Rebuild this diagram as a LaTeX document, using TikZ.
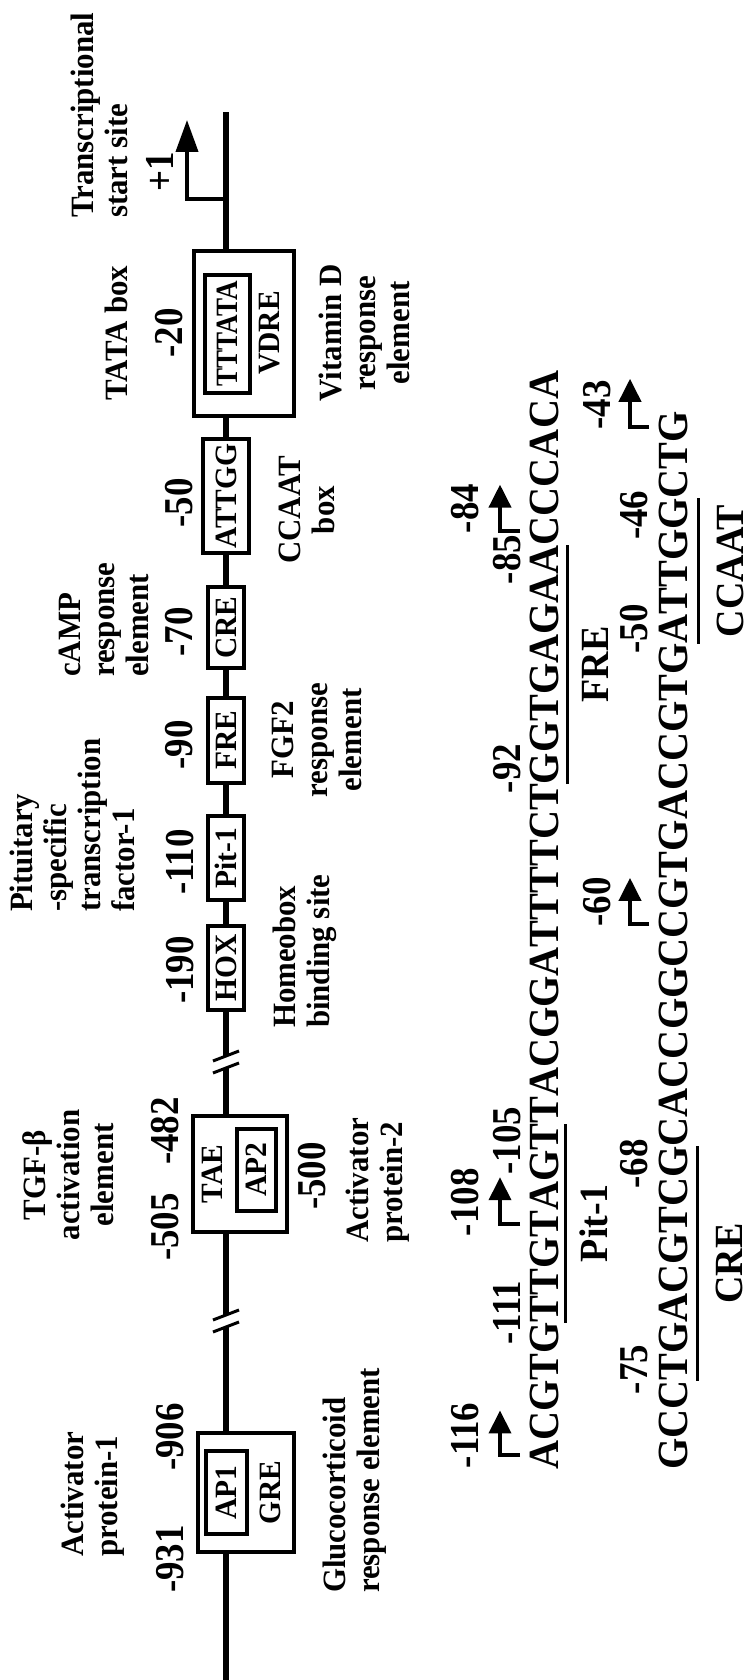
\documentclass[tikz,border=0pt]{standalone}
\usepackage{fontspec}
\setmainfont{Liberation Serif}
\newfontfamily\seqfont[Kerning=Off]{Liberation Serif}
\usetikzlibrary{arrows.meta,calc}
\begin{document}
\begin{tikzpicture}[x=1pt,y=-1pt,rotate=90,transform shape,
  lbl/.style={font=\fontsize{32.5}{34}\selectfont\bfseries, inner sep=0pt, outer sep=0pt, xscale=0.95},
  num/.style={font=\fontsize{41}{44}\selectfont\bfseries, inner sep=0pt, outer sep=0pt, anchor=base, xscale=0.9},
  boxtxt/.style={font=\fontsize{31}{33}\selectfont\bfseries, inner sep=0pt, outer sep=0pt, xscale=0.95},
  elbox/.style={draw, line width=4pt, fill=white, inner sep=0pt, outer sep=0pt},
  dna/.style={line width=6pt},
  brk/.style={line width=3pt},
  seq/.style={font=\seqfont\fontsize{43}{46}\selectfont\bfseries, inner sep=0pt, outer sep=0pt, anchor=base west, xscale=0.935},
  uline/.style={line width=3pt},
  sarr/.style={line width=4pt, -{Triangle[length=23pt,width=22pt]}},
  tarr/.style={line width=4pt, -{Triangle[length=32pt,width=22pt]}},
  sitelab/.style={font=\fontsize{40}{42}\selectfont\bfseries, inner sep=0pt, outer sep=0pt, anchor=base, xscale=0.95},
]
\useasboundingbox (0,0) rectangle (1680,752);
\fill[white] (0,0) rectangle (1680,752);

% ---------- promoter boxes ----------
\node[elbox, minimum width=119pt, minimum height=96pt] (gre) at (187.5,246) {};
\node[elbox, minimum width=83pt, minimum height=41pt] (ap1) at (187.5,226.5) {};
\node[boxtxt] (ap1t) at (ap1) {AP1};
\node[boxtxt] (gret) at (187,270) {GRE};

\node[elbox, minimum width=116pt, minimum height=94pt] (tae) at (506,240) {};
\node[elbox, minimum width=82pt, minimum height=39pt] (ap2) at (510,256.5) {};
\node[boxtxt] (taet) at (506,212) {TAE};
\node[boxtxt] (ap2t) at (ap2) {AP2};

\node[elbox, minimum width=84pt, minimum height=36pt] (hox) at (712,226) {};
\node[boxtxt] (hoxt) at (hox) {HOX};
\node[elbox, minimum width=84pt, minimum height=36pt] (pit) at (822,226) {};
\node[boxtxt] (pitt) at (pit) {Pit-1};
\node[elbox, minimum width=85pt, minimum height=36pt] (fre) at (939.5,226) {};
\node[boxtxt] (fret) at (fre) {FRE};
\node[elbox, minimum width=81pt, minimum height=36pt] (cre) at (1052.5,226) {};
\node[boxtxt] (cret) at (cre) {CRE};
\node[elbox, minimum width=114pt, minimum height=46pt] (attgg) at (1184,226) {};
\node[boxtxt] (attggt) at (attgg) {ATTGG};

\node[elbox, minimum width=165pt, minimum height=100pt] (vdre) at (1346.5,244) {};
\node[elbox, minimum width=118pt, minimum height=45pt] (tata) at (1346,227.5) {};
\node[boxtxt, xscale=0.92] (tatat) at (tata) {TTTATA};
\node[boxtxt] (vdret) at (1347,270) {VDRE};

% ---------- main DNA line ----------
\coordinate (L0) at (0,226);
\coordinate (Lend) at (1568,226);
\coordinate (b1a) at (353,226);
\coordinate (b1b) at (365,226);
\coordinate (b2a) at (612,226);
\coordinate (b2b) at (624,226);
\draw[dna] (L0) -- ($(gre.west)+(0,-20)$);
\draw[dna] ($(gre.east)+(0,-20)$) -- (b1a);
\draw[dna] (b1b) -- ($(tae.west)+(0,-14)$);
\draw[dna] ($(tae.east)+(0,-14)$) -- (b2a);
\draw[dna] (b2b) -- (hox.west);
\draw[dna] (hox.east) -- (pit.west);
\draw[dna] (pit.east) -- (fre.west);
\draw[dna] (fre.east) -- (cre.west);
\draw[dna] (cre.east) -- (attgg.west);
\draw[dna] (attgg.east) -- ($(vdre.west)+(0,-18)$);
\draw[dna] ($(vdre.east)+(0,-18)$) -- (Lend);
\draw[brk] ($(b1a)+(-5,-13)$) -- ($(b1a)+(5,13)$);
\draw[brk] ($(b1b)+(-5,-13)$) -- ($(b1b)+(5,13)$);
\draw[brk] ($(b2a)+(-5,-13)$) -- ($(b2a)+(5,13)$);
\draw[brk] ($(b2b)+(-5,-13)$) -- ($(b2b)+(5,13)$);

% transcriptional start site
\coordinate (tss) at (1481,226);
\draw[tarr] (tss) -- ++(0,-39) -- ++(79,0);

% ---------- position numbers ----------
\node[num] (n931) at (121,183) {-931};
\node[num] (n906) at (243,183) {-906};
\node[num] (n505) at (453,178) {-505};
\node[num] (n482) at (549,178) {-482};
\node[num] (n500) at (504,325) {-500};
\node[num] (n190) at (710,193) {-190};
\node[num] (n110) at (818,193) {-110};
\node[num] (n90) at (935,192) {-90};
\node[num] (n70) at (1048,192) {-70};
\node[num] (n50) at (1177,192) {-50};
\node[num] (n20) at (1347,182) {-20};
\node[num] (np1) at (1508,173) {+1};

% ---------- descriptive labels (anchored at last baseline) ----------
\node[lbl, anchor=base west, align=left] (tap1) at (123,117) {Activator\\protein-1};
\node[lbl, anchor=base west, align=left] (tgre) at (87,379) {Glucocorticoid\\response element};
\node[lbl, anchor=base, align=center] (ttgf) at (505,113) {TGF-β\\activation\\element};
\node[lbl, anchor=base west, align=left] (tap2) at (437,402) {Activator\\protein-2};
\node[lbl, anchor=base west, align=left] (tpit) at (768,134) {Pituitary\\-specific\\transcription\\factor-1};
\node[lbl, anchor=base west, align=left] (thox) at (652,329) {Homeobox\\binding site};
\node[lbl, anchor=base west, align=left] (tcamp) at (1003,148) {cAMP\\response\\element};
\node[lbl, anchor=base, align=center] (tfgf) at (940,361) {FGF2\\response\\element};
\node[lbl, anchor=base, align=center] (tccaat) at (1170,334) {CCAAT\\box};
\node[lbl, anchor=base] (ttata) at (1347,127) {TATA box};
\node[lbl, anchor=base, align=center] (tvdr) at (1347,409) {Vitamin D\\response\\element};
\node[lbl, anchor=base west, align=left] (ttss) at (1462,127) {Transcriptional\\start site};

% ---------- sequence line 1 ----------
\node[seq] (s1a) at (210,558) {A};
\node[seq] (s1b) at (s1a.base east) {CGTG};
\node[seq] (s1c) at (s1b.base east) {TTG};
\node[seq] (s1d) at (s1c.base east) {T};
\node[seq] (s1e) at (s1d.base east) {AGT};
\node[seq] (s1f) at (s1e.base east) {TACGGATTTTCT};
\node[seq] (s1g) at (s1f.base east) {GGTGAGAA};
\node[seq] (s1h) at (s1g.base east) {C};
\node[seq] (s1i) at (s1h.base east) {CCACA};

% ---------- sequence line 2 ----------
\node[seq] (s2a) at (210,687) {GCC};
\node[seq] (s2b) at (s2a.base east) {TGACGTCG};
\node[seq] (s2c) at (s2b.base east) {CACCGGC};
\node[seq] (s2d) at (s2c.base east) {C};
\node[seq] (s2e) at (s2d.base east) {GTGACCGTG};
\node[seq] (s2f) at (s2e.base east) {ATTGG};
\node[seq] (s2g) at (s2f.base east) {CT};
\node[seq] (s2h) at (s2g.base east) {G};

% start arrows
\draw[sarr] ($(s1a.base)+(0,-38)$) -- ++(0,-20) -- ++(45,0);
\draw[sarr] ($(s1d.base)+(0,-38)$) -- ++(0,-20) -- ++(47,0);
\draw[sarr] ($(s1h.base)+(0,-38)$) -- ++(0,-20) -- ++(46,0);
\draw[sarr] ($(s2d.base)+(0,-38)$) -- ++(0,-19) -- ++(46,0);
\draw[sarr] ($(s2h.base)+(0,-38)$) -- ++(0,-19) -- ++(48,0);

% sequence numbers
\node[num] (q116) at ($(s1a.base)+(20,-80)$) {-116};
\node[num] (q111) at ($(s1c.base west)+(10,-38)$) {-111};
\node[num] (q108) at ($(s1d.base)+(22,-80)$) {-108};
\node[num] (q105) at ($(s1e.base east)+(-17,-38)$) {-105};
\node[num] (q92) at ($(s1g.base west)+(15.6,-38)$) {-92};
\node[num] (q85) at ($(s1g.base east)+(-14.5,-38)$) {-85};
\node[num] (q84) at ($(s1h.base)+(22,-80)$) {-84};
\node[num] (q75) at ($(s2b.base west)+(11,-40)$) {-75};
\node[num] (q68) at ($(s2b.base east)+(-18,-40)$) {-68};
\node[num] (q60) at ($(s2d.base)+(22,-77)$) {-60};
\node[num] (q50) at ($(s2f.base west)+(14.5,-40)$) {-50};
\node[num] (q46) at ($(s2f.base east)+(-17,-40)$) {-46};
\node[num] (q43) at ($(s2h.base)+(22,-77)$) {-43};

% underlines and site names
\draw[uline] ($(s1c.base west)+(0,7)$) -- ($(s1e.base east)+(0,7)$);
\draw[uline] ($(s1g.base west)+(0,9)$) -- ($(s1g.base east)+(0,9)$);
\draw[uline] ($(s2b.base west)+(0,10)$) -- ($(s2b.base east)+(0,10)$);
\draw[uline] ($(s2f.base west)+(0,11)$) -- ($(s2f.base east)+(0,11)$);
\node[sitelab] (lpit) at ($(s1c.base west)!0.5!(s1e.base east)+(0,49)$) {Pit-1};
\node[sitelab] (lfre) at ($(s1g.base west)!0.5!(s1g.base east)+(0,50)$) {FRE};
\node[sitelab] (lcre) at ($(s2b.base west)!0.5!(s2b.base east)+(0,55)$) {CRE};
\node[sitelab] (lccaat) at ($(s2f.base west)!0.5!(s2f.base east)+(0,56)$) {CCAAT};
\end{tikzpicture}
\end{document}
